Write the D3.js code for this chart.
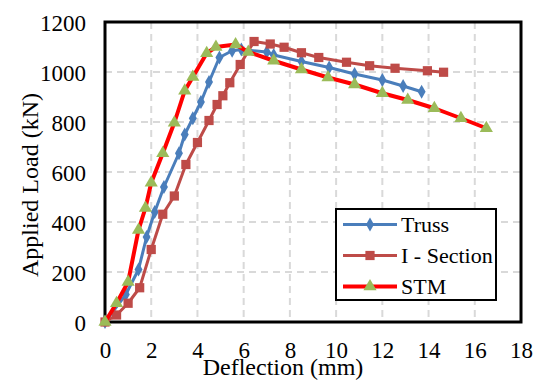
<!DOCTYPE html>
<html><head><meta charset="utf-8">
<script src="https://cdn.jsdelivr.net/npm/d3@7"></script>
<style>body{margin:0;background:#fff}svg{display:block}</style>
</head><body><svg id="c" width="539" height="381"></svg>
<script>
const xTicks = [0,2,4,6,8,10,12,14,16,18];
const yTicks = [0,200,400,600,800,1000,1200];
const seriesNames = ["Truss","I - Section","STM"];
const trussX = [0,0.9,1.45,1.8,2.15,2.55,3.2,3.45,3.8,4.15,4.5,4.95,5.5,5.9,7.0,7.3,8.5,9.7,10.8,12.0,12.9,13.7];
const trussY = [0,110,210,340,440,540,675,750,815,880,960,1058,1085,1090,1080,1068,1042,1018,992,968,944,921];
const isecX = [0,0.5,1.0,1.5,2.0,2.5,3.0,3.5,4.0,4.5,4.85,5.1,5.4,5.85,6.45,7.15,7.75,8.5,9.25,10.45,11.45,12.55,13.95,14.65];
const isecY = [0,28,75,137,290,431,504,630,718,806,870,905,957,1030,1122,1112,1099,1077,1058,1039,1025,1015,1005,999];
const stmX = [0,0.5,1.0,1.45,1.75,2.0,2.5,3.0,3.45,3.8,4.4,4.8,5.65,6.2,7.3,8.5,9.65,10.8,12.0,13.1,14.25,15.4,16.5];
const stmY = [0,75,160,368,456,557,675,797,925,980,1075,1100,1110,1080,1045,1010,978,950,915,888,855,815,775];

const FONT = "'Liberation Serif'";
const svg = d3.select("#c");
const L=105,R=521,T=22,B=322;
const x = d3.scaleLinear().domain([0,18]).range([L,R]);
const y = d3.scaleLinear().domain([0,1200]).range([B,T]);

// gridlines
svg.append("g").selectAll("line").data(xTicks.slice(1,-1)).join("line")
  .attr("x1",d=>x(d)).attr("x2",d=>x(d)).attr("y1",T).attr("y2",B)
  .attr("stroke","#d9d9d9").attr("stroke-width",2).attr("stroke-dasharray","7,5");
svg.append("g").selectAll("line").data(yTicks.slice(1,-1)).join("line")
  .attr("y1",d=>y(d)).attr("y2",d=>y(d)).attr("x1",L).attr("x2",R)
  .attr("stroke","#d9d9d9").attr("stroke-width",2).attr("stroke-dasharray","7,5");

// axes (labels via d3 axis)
const xa = svg.append("g").attr("transform",`translate(0,${B})`)
  .call(d3.axisBottom(x).tickValues(xTicks).tickSize(0).tickPadding(20).tickFormat(d3.format("d")));
const ya = svg.append("g").attr("transform",`translate(${L},0)`)
  .call(d3.axisLeft(y).tickValues(yTicks).tickSize(0).tickPadding(19).tickFormat(d3.format("d")));
[xa,ya].forEach(a=>{
  a.attr("font-family",null).attr("font-size",null);
  a.select(".domain").remove();
  a.selectAll("text").style("font-family",FONT).style("font-size","23px").attr("fill","#000");
});
ya.selectAll("text").attr("dy","0.35em");

// border
svg.append("rect").attr("x",L).attr("y",T).attr("width",R-L).attr("height",B-T)
  .attr("fill","none").attr("stroke","#000").attr("stroke-width",3);

// titles
svg.append("text").attr("x",283).attr("y",375).attr("text-anchor","middle").style("font-family",FONT).style("font-size","24px").text("Deflection (mm)");
svg.append("text").attr("transform","translate(38,185) rotate(-90)").attr("text-anchor","middle").style("font-family",FONT).style("font-size","24px").text("Applied Load (kN)");

const defs = [
  {name:seriesNames[0],xs:trussX,ys:trussY,line:"#4a7ebb",mark:"#4a7ebb",lw:3,sym:d3.symbolDiamond,size:55},
  {name:seriesNames[1],xs:isecX,ys:isecY,line:"#be4b48",mark:"#be4b48",lw:3,sym:d3.symbolSquare,size:85},
  {name:seriesNames[2],xs:stmX,ys:stmY,line:"#ff0000",mark:"#9bbb59",lw:4,sym:d3.symbolTriangle,size:75}
];
const line = d3.line().x(d=>x(d[0])).y(d=>y(d[1]));
defs.forEach(s=>{
  const pts = s.xs.map((v,i)=>[v,s.ys[i]]);
  const g = svg.append("g");
  g.append("path").datum(pts).attr("d",line).attr("fill","none").attr("stroke",s.line).attr("stroke-width",s.lw).attr("stroke-linejoin","round");
  g.selectAll("path.m").data(pts).join("path").attr("class","m")
    .attr("transform",d=>`translate(${x(d[0])},${y(d[1])})`)
    .attr("d",d3.symbol().type(s.sym).size(s.size)).attr("fill",s.mark);
});

// legend
const lg = svg.append("g");
lg.append("rect").attr("x",336).attr("y",209).attr("width",160).attr("height",91).attr("fill","#fff").attr("stroke","#000").attr("stroke-width",2);
defs.forEach((s,i)=>{
  const yy = 224.5 + i*31;
  lg.append("line").attr("x1",343).attr("x2",397).attr("y1",yy).attr("y2",yy).attr("stroke",s.line).attr("stroke-width",s.lw);
  lg.append("path").attr("transform",`translate(370,${yy})`).attr("d",d3.symbol().type(s.sym).size(s.size)).attr("fill",s.mark);
  lg.append("text").attr("x",401).attr("y",yy).attr("dy","0.35em").style("font-family",FONT).style("font-size","22px").text(s.name);
});
</script></body></html>
